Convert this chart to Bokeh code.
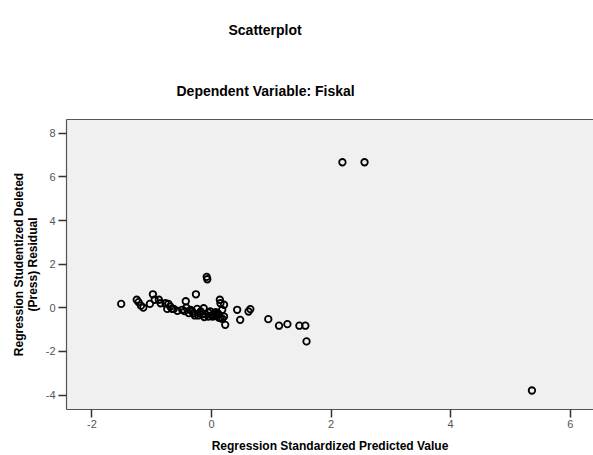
from bokeh.plotting import figure
from bokeh.models import Range1d, LinearAxis, FixedTicker, Title
from bokeh.embed import file_html
from bokeh.resources import INLINE

pred_x = [-1.51, -1.25, -1.22, -1.18, -1.14, -1.03, -0.98, -0.95, -0.88, -0.85,
          -0.77, -0.74, -0.72, -0.69, -0.66, -0.63, -0.57, -0.49, -0.45, -0.43,
          -0.42, -0.38, -0.35, -0.32, -0.30, -0.28, -0.26, -0.24, -0.22, -0.20,
          -0.18, -0.15, -0.13, -0.12, -0.10, -0.08, -0.07, -0.05, -0.05, -0.02,
          0.00, 0.02, 0.04, 0.07, 0.08, 0.10, 0.12, 0.12, 0.14, 0.15,
          0.15, 0.18, 0.18, 0.21, 0.21, 0.23, 0.43, 0.48, 0.62, 0.65,
          0.95, 1.13, 1.27, 1.47, 1.57, 1.59, 2.19, 2.56, 5.36]
resid_y = [0.18, 0.37, 0.26, 0.10, 0.01, 0.18, 0.62, 0.37, 0.37, 0.21,
           0.21, -0.05, 0.18, 0.06, -0.05, -0.05, -0.14, -0.09, -0.15, 0.30,
           0.01, -0.24, -0.10, -0.17, -0.25, -0.35, 0.62, -0.05, -0.35, -0.25,
           -0.17, -0.30, -0.02, -0.42, -0.29, 1.42, 1.31, -0.40, -0.22, -0.17,
           -0.35, -0.40, -0.32, -0.20, -0.35, -0.24, -0.45, -0.30, 0.37, 0.21,
           -0.47, -0.09, -0.50, 0.14, -0.40, -0.78, -0.09, -0.55, -0.17, -0.06,
           -0.52, -0.82, -0.75, -0.82, -0.82, -1.54, 6.67, 6.67, -3.79]

x_ticks = [-2, 0, 2, 4, 6]
y_ticks = [-4, -2, 0, 2, 4, 6, 8]
x_tick_labels = {-2: "-2", 0: "0", 2: "2", 4: "4", 6: "6"}
y_tick_labels = {-4: "-4", -2: "-2", 0: "0", 2: "2", 4: "4", 6: "6", 8: "8"}

FONT = "Liberation Sans"

p = figure(width=593, height=455, output_backend="svg", toolbar_location=None,
           x_range=Range1d(-2.425, 6.39), y_range=Range1d(-4.66, 8.63),
           min_border_left=66, min_border_right=0, min_border_top=119,
           min_border_bottom=45, background_fill_color="#f0f0f0",
           border_fill_color="white", outline_line_color=None)

p.xgrid.visible = False
p.ygrid.visible = False

for ax in (p.xaxis[0], p.yaxis[0]):
    ax.axis_line_color = "#555555"
    ax.axis_line_width = 1.2
    ax.major_tick_line_color = "#333333"
    ax.major_tick_line_width = 1.5
    ax.major_tick_in = 0
    ax.major_tick_out = 8
    ax.minor_tick_line_color = None
    ax.major_label_text_font = FONT
    ax.major_label_text_font_size = "11px"
    ax.major_label_text_color = "#555555"
    ax.axis_label_text_font = FONT
    ax.axis_label_text_font_size = "12px"
    ax.axis_label_text_font_style = "bold"
    ax.axis_label_text_color = "black"

p.xaxis.ticker = FixedTicker(ticks=x_ticks)
p.yaxis.ticker = FixedTicker(ticks=y_ticks)
p.xaxis.major_label_overrides = x_tick_labels
p.yaxis.major_label_overrides = y_tick_labels
p.xaxis.axis_label = "Regression Standardized Predicted Value"
p.yaxis.axis_label = "Regression Studentized Deleted\n(Press) Residual"
p.yaxis.axis_label_text_line_height = 1.0
p.xaxis.major_label_standoff = 2
p.yaxis.major_label_standoff = 3
p.xaxis.axis_label_standoff = 8
p.yaxis.axis_label_standoff = 3

# top border line of the plot area
top = LinearAxis(ticker=FixedTicker(ticks=[]), axis_line_color="#555555",
                 axis_line_width=1.2, major_tick_line_color=None,
                 minor_tick_line_color=None, major_label_text_color=None,
                 major_tick_out=0, major_tick_in=0, major_label_standoff=0)
p.add_layout(top, "above")

p.add_layout(Title(text="Dependent Variable: Fiskal", align="left", offset=110,
                   standoff=42, text_font=FONT, text_font_size="14px",
                   text_font_style="bold", text_color="black"), "above")

p.add_layout(Title(text="Scatterplot", align="left", offset=162,
                   vertical_align="top", standoff=40, text_font=FONT,
                   text_font_size="14px", text_font_style="bold",
                   text_color="black"), "above")

p.scatter(pred_x, resid_y, marker="circle", size=6.5, fill_color=None,
          line_color="black", line_width=1.8)

open("out.html", "w").write(file_html(p, INLINE))
